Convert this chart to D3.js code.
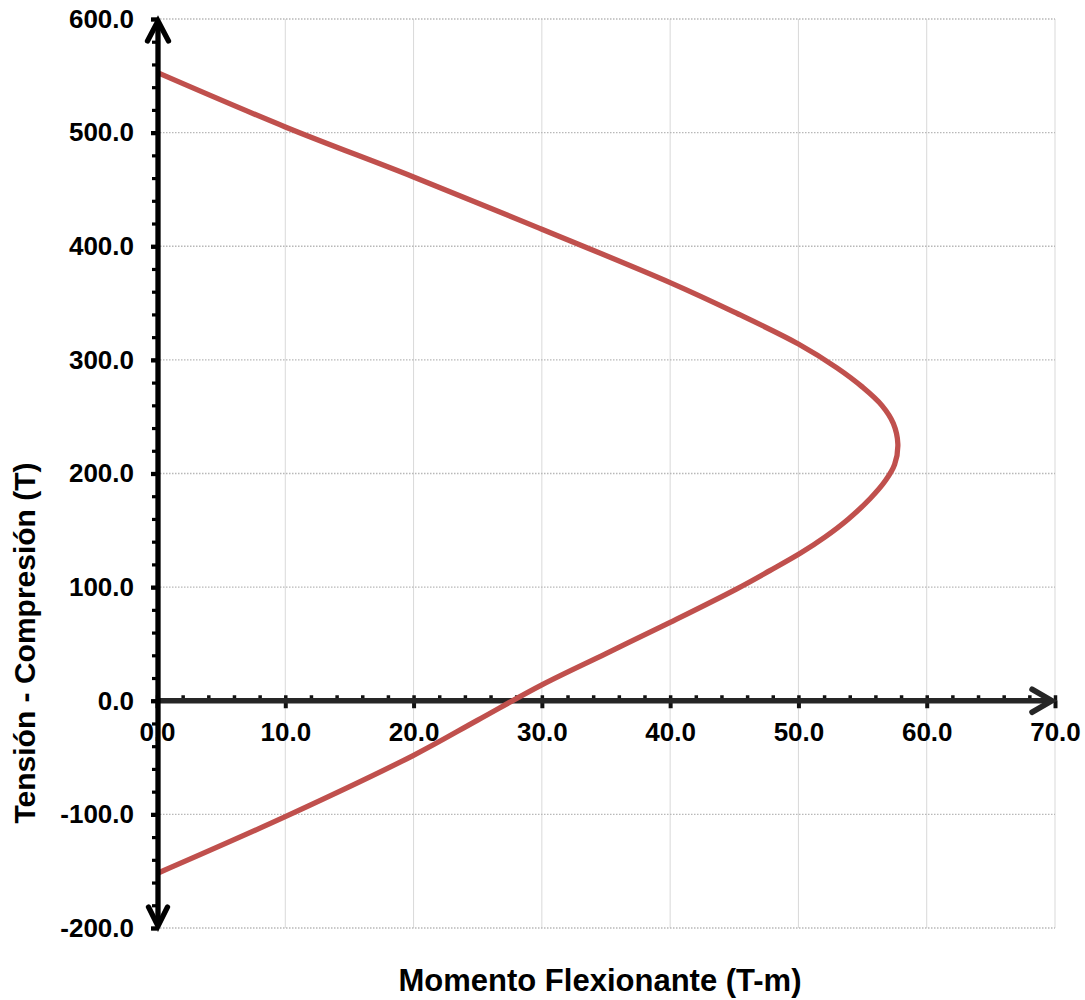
<!DOCTYPE html>
<html>
<head>
<meta charset="utf-8">
<script src="https://cdn.jsdelivr.net/npm/d3@7"></script>
<style>
  html, body { margin: 0; padding: 0; background: #fff; }
  svg { display: block; font-family: "Liberation Sans", Arial, sans-serif; }
</style>
</head>
<body>
<svg id="chart" width="1085" height="1000"></svg>
<script>
// ---- Data ----
const momento = [0, 10, 20, 30, 40, 45, 50, 53, 55, 56.5, 57.4, 57.75, 57.5, 56.8, 55.6, 53.9, 52.06, 50.17, 47.77, 45.2, 40, 35, 30, 25, 20, 10, 0];
const carga   = [553, 505, 461, 415, 368, 342, 314, 293, 276, 260, 244, 226, 208, 194, 178, 160, 144, 130, 114.5, 98.5, 69, 41.5, 14, -17, -48, -102, -152];
const xTicks = [0, 10, 20, 30, 40, 50, 60, 70];
const yTicks = [-200, -100, 0, 100, 200, 300, 400, 500, 600];
const xTitle = "Momento Flexionante (T-m)";
const yTitle = "Tensión - Compresión (T)";

const svg = d3.select("#chart");
const x = d3.scaleLinear().domain([0, 70]).range([157, 1055]);
const y = d3.scaleLinear().domain([-200, 600]).range([928, 19]);
const f1 = d3.format(".1f");
const fmt = d => f1(d).replace("\u2212", "-");

// Grid: vertical solid light, horizontal dotted
svg.append("g")
  .selectAll("line").data(xTicks.filter(d => d > 0)).join("line")
  .attr("x1", d => x(d)).attr("x2", d => x(d))
  .attr("y1", y(600)).attr("y2", y(-200))
  .attr("stroke", "#d9d9d9").attr("stroke-width", 1);
svg.append("g")
  .selectAll("line").data(yTicks).join("line")
  .attr("x1", x(0)).attr("x2", x(70))
  .attr("y1", d => y(d)).attr("y2", d => y(d))
  .attr("stroke", "#b8b8b8").attr("stroke-width", 1.3)
  .attr("stroke-dasharray", "1.5,1.5");

// X axis (at y = 0)
const y0 = y(0);
const xLab = svg.append("g").attr("transform", `translate(0,${y0})`)
  .call(d3.axisBottom(x).tickValues(xTicks).tickSize(0).tickPadding(22).tickFormat(fmt));
xLab.select(".domain").remove();
xLab.selectAll("text").attr("font-size", 26).attr("font-weight", "bold").attr("fill", "#000")
  .attr("font-family", "Liberation Sans, Arial, sans-serif");

const xMinor = svg.append("g").attr("transform", `translate(0,${y0})`)
  .call(d3.axisTop(x).tickValues(d3.range(0, 70.01, 2)).tickSize(5.5).tickFormat(""));
xMinor.select(".domain").remove();
xMinor.selectAll("line").attr("stroke", "#111").attr("stroke-width", 3.5);

const xMajor = svg.append("g").attr("transform", `translate(0,${y0})`)
  .call(d3.axisBottom(x).tickValues(xTicks).tickSize(7.5).tickFormat(""));
xMajor.select(".domain").remove();
xMajor.selectAll("line").attr("stroke", "#111").attr("stroke-width", 4);

svg.append("line")
  .attr("x1", x(0)).attr("x2", x(70) - 3)
  .attr("y1", y0).attr("y2", y0)
  .attr("stroke", "#262626").attr("stroke-width", 5.5);
svg.append("path")
  .attr("d", `M${x(70) - 23},${y0 - 11.5} L${x(70) - 3},${y0} L${x(70) - 23},${y0 + 11.5}`)
  .attr("fill", "none").attr("stroke", "#262626").attr("stroke-width", 5.5)
  .attr("stroke-linecap", "round").attr("stroke-linejoin", "miter");

// Curve
const line = d3.line().x((d, i) => x(momento[i])).y((d, i) => y(carga[i]))
  .curve(d3.curveCatmullRom.alpha(0.5));
svg.append("path").datum(momento)
  .attr("d", line)
  .attr("fill", "none").attr("stroke", "#c0504d").attr("stroke-width", 5.3);

// Y axis
const yLab = svg.append("g").attr("transform", `translate(${x(0)},0)`)
  .call(d3.axisLeft(y).tickValues(yTicks).tickSize(0).tickPadding(23).tickFormat(fmt));
yLab.select(".domain").remove();
yLab.selectAll("text").attr("font-size", 26).attr("font-weight", "bold").attr("fill", "#000")
  .attr("font-family", "Liberation Sans, Arial, sans-serif");

const yMinor = svg.append("g").attr("transform", `translate(${x(0)},0)`)
  .call(d3.axisLeft(y).tickValues(d3.range(-200, 600.01, 20)).tickSize(5).tickFormat(""));
yMinor.select(".domain").remove();
yMinor.selectAll("line").attr("stroke", "#000").attr("stroke-width", 3.2);

const yMajor = svg.append("g").attr("transform", `translate(${x(0)},0)`)
  .call(d3.axisLeft(y).tickValues(yTicks).tickSize(6).tickFormat(""));
yMajor.select(".domain").remove();
yMajor.selectAll("line").attr("stroke", "#000").attr("stroke-width", 4.3);

const xa = x(0) + 1;
svg.append("line")
  .attr("x1", xa).attr("x2", xa).attr("y1", y(600) + 2).attr("y2", y(-200) - 2)
  .attr("stroke", "#000").attr("stroke-width", 5.3);
svg.append("path")
  .attr("d", `M${xa - 10.5},${y(600) + 22} L${xa},${y(600) + 2} L${xa + 10.5},${y(600) + 22}`)
  .attr("fill", "none").attr("stroke", "#000").attr("stroke-width", 5.3)
  .attr("stroke-linecap", "round");
svg.append("path")
  .attr("d", `M${xa - 9.5},${y(-200) - 21} L${xa},${y(-200) - 2} L${xa + 9.5},${y(-200) - 21}`)
  .attr("fill", "none").attr("stroke", "#000").attr("stroke-width", 5.3)
  .attr("stroke-linecap", "round");

// Titles
svg.append("text")
  .attr("x", 600).attr("y", 991)
  .attr("text-anchor", "middle")
  .attr("font-size", 31).attr("font-weight", "bold").attr("fill", "#000")
  .text(xTitle);
svg.append("text")
  .attr("transform", `translate(35,643) rotate(-90)`)
  .attr("text-anchor", "middle")
  .attr("font-size", 30).attr("font-weight", "bold").attr("fill", "#000")
  .text(yTitle);
</script>
</body>
</html>
